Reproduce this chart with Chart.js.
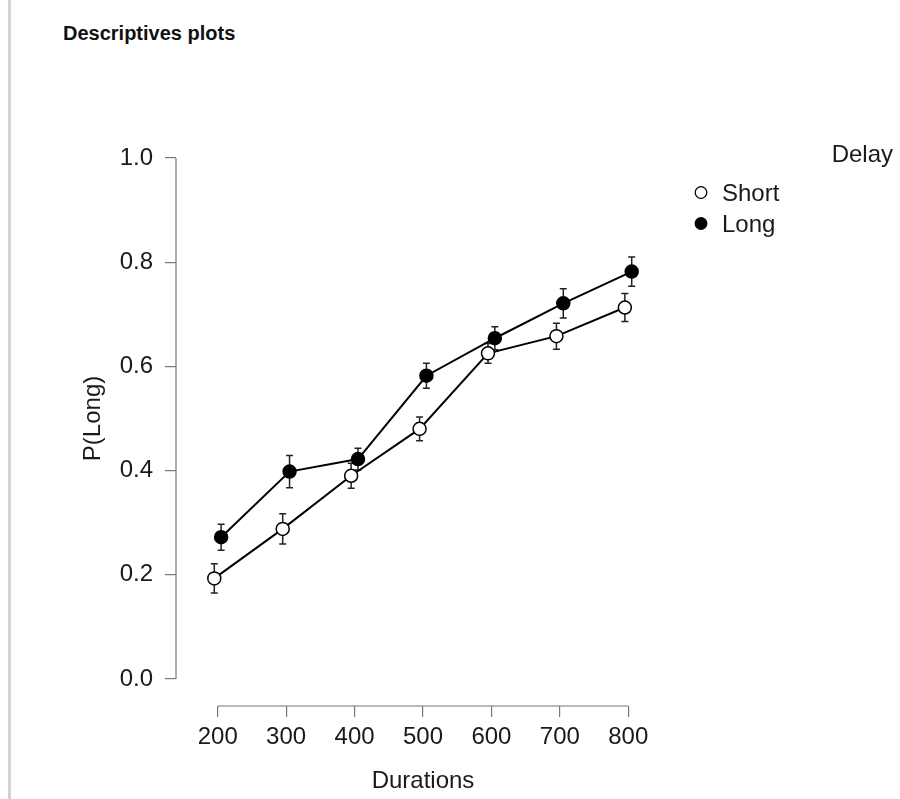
<!DOCTYPE html>
<html><head><meta charset="utf-8">
<script src="https://cdn.jsdelivr.net/npm/chart.js@4/dist/chart.umd.min.js"></script>
<style>
html,body{margin:0;padding:0;background:#fff;width:900px;height:799px;overflow:hidden;}
#bar{position:absolute;left:8px;top:0;width:3px;height:799px;background:#d3d3d3;}
#title{position:absolute;left:63px;top:23px;font:bold 20px "Liberation Sans",Arial,sans-serif;line-height:20px;color:#111;white-space:nowrap;}
canvas{position:absolute;left:0;top:0;}
</style></head><body>
<div id="bar"></div>
<div id="title">Descriptives plots</div>
<canvas id="c" width="900" height="799"></canvas>
<script>
// ---- data ----
const durations = [200, 300, 400, 500, 600, 700, 800];
const shortMeans = [0.193, 0.288, 0.390, 0.480, 0.625, 0.658, 0.713];
const shortErr   = [0.028, 0.029, 0.024, 0.023, 0.019, 0.025, 0.027];
const longMeans  = [0.272, 0.398, 0.422, 0.582, 0.654, 0.721, 0.782];
const longErr    = [0.025, 0.031, 0.021, 0.024, 0.022, 0.028, 0.028];
const yTicks = [0, 0.2, 0.4, 0.6, 0.8, 1.0];
const seriesNames = ['Short', 'Long'];
const legendTitle = 'Delay';
const xTitle = 'Durations';
const yTitle = 'P(Long)';

// ---- style ----
const FONT = '"Liberation Sans", Arial, sans-serif';
const TEXT = '#1a1a1a';
const AXIS = '#777';
const DODGE = 5;

const mk = (means, shift) => means.map((m, i) => ({x: durations[i] + shift, y: m}));

const extras = {
  id: 'extras',
  beforeDatasetsDraw(chart) {
    const ctx = chart.ctx, ys = chart.scales.y;
    ctx.save();
    ctx.strokeStyle = '#222';
    ctx.lineWidth = 1.5;
    chart.data.datasets.forEach((ds, di) => {
      const meta = chart.getDatasetMeta(di);
      meta.data.forEach((pt, i) => {
        const m = ds.data[i].y, e = ds.errors[i];
        const t = ys.getPixelForValue(m + e), b = ys.getPixelForValue(m - e);
        ctx.beginPath();
        ctx.moveTo(pt.x, t); ctx.lineTo(pt.x, b);
        ctx.moveTo(pt.x - 3.5, t); ctx.lineTo(pt.x + 3.5, t);
        ctx.moveTo(pt.x - 3.5, b); ctx.lineTo(pt.x + 3.5, b);
        ctx.stroke();
      });
    });
    ctx.restore();
  },
  afterDraw(chart) {
    const ctx = chart.ctx, xs = chart.scales.x, ys = chart.scales.y, ca = chart.chartArea;
    ctx.save();
    // axis lines (range of ticks only)
    ctx.strokeStyle = AXIS; ctx.lineWidth = 1.2;
    ctx.beginPath();
    ctx.moveTo(ca.left, ys.getPixelForValue(yTicks[0]));
    ctx.lineTo(ca.left, ys.getPixelForValue(yTicks[yTicks.length - 1]));
    ctx.moveTo(xs.getPixelForValue(durations[0]), ca.bottom);
    ctx.lineTo(xs.getPixelForValue(durations[durations.length - 1]), ca.bottom);
    ctx.stroke();
    // y title
    ctx.fillStyle = TEXT;
    ctx.font = '24px ' + FONT;
    ctx.textAlign = 'center'; ctx.textBaseline = 'alphabetic';
    const cy = (ys.getPixelForValue(yTicks[0]) + ys.getPixelForValue(yTicks[yTicks.length - 1])) / 2;
    ctx.translate(100, cy); ctx.rotate(-Math.PI / 2);
    ctx.fillText(yTitle, 0, 0);
    ctx.setTransform(1, 0, 0, 1, 0, 0);
    // legend
    ctx.textAlign = 'right';
    ctx.fillText(legendTitle, 893, 162);
    ctx.textAlign = 'left';
    chart.data.datasets.forEach((ds, i) => {
      const cyi = 192.5 + i * 31;
      ctx.beginPath();
      ctx.arc(701, cyi, 5.8, 0, Math.PI * 2);
      ctx.fillStyle = ds.pointBackgroundColor; ctx.fill();
      ctx.strokeStyle = '#000'; ctx.lineWidth = 1.3; ctx.stroke();
      ctx.fillStyle = TEXT;
      ctx.fillText(ds.label, 722, cyi + 8.6);
    });
    ctx.restore();
  }
};

const gridOpts = {drawOnChartArea: false, drawTicks: true, tickLength: 11, color: AXIS, lineWidth: 1.2};

new Chart(document.getElementById('c'), {
  type: 'line',
  data: {
    datasets: [
      {label: seriesNames[0], data: mk(shortMeans, -DODGE), errors: shortErr,
       borderColor: '#000', borderWidth: 2, pointRadius: 6.5, pointBorderWidth: 1.5,
       pointBackgroundColor: '#fff', pointBorderColor: '#000', tension: 0, order: 2},
      {label: seriesNames[1], data: mk(longMeans, DODGE), errors: longErr,
       borderColor: '#000', borderWidth: 2, pointRadius: 6.5, pointBorderWidth: 1.5,
       pointBackgroundColor: '#000', pointBorderColor: '#000', tension: 0, order: 1}
    ]
  },
  options: {
    responsive: false, animation: false, devicePixelRatio: 1,
    layout: {padding: {left: 0, top: 158, right: 230, bottom: 0}},
    plugins: {legend: {display: false}, tooltip: {enabled: false}},
    scales: {
      x: {
        type: 'linear', min: 139.06, max: 860.96,
        afterBuildTicks: s => { s.ticks = durations.map(v => ({value: v})); },
        afterFit: s => { s.height = 93; },
        grid: gridOpts, border: {display: false},
        ticks: {color: TEXT, font: {family: FONT, size: 24}, padding: 6, maxRotation: 0, autoSkip: false,
                callback: v => String(v)},
        title: {display: true, text: xTitle, color: TEXT, font: {family: FONT, size: 24}, padding: {top: 0, bottom: 3.6}}
      },
      y: {
        type: 'linear', min: -0.052, max: 1.0,
        afterBuildTicks: s => { s.ticks = yTicks.map(v => ({value: v})); },
        afterFit: s => { s.width = 176; },
        grid: gridOpts, border: {display: false},
        ticks: {color: TEXT, font: {family: FONT, size: 24}, padding: 12, autoSkip: false,
                callback: v => Number(v).toFixed(1)}
      }
    }
  },
  plugins: [extras]
});
</script>
</body></html>
